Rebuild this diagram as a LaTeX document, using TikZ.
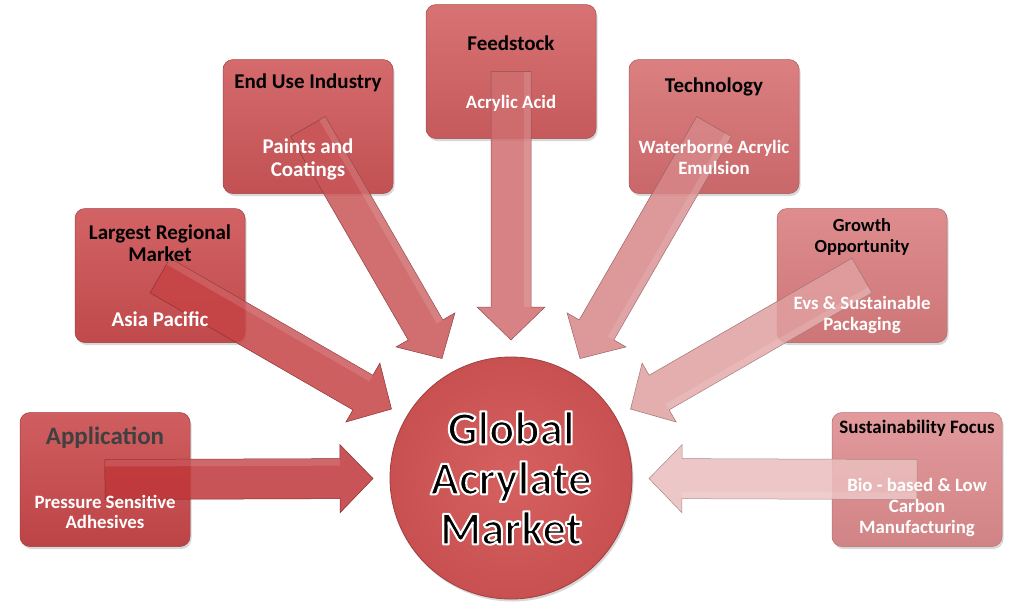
\documentclass[tikz,border=0pt]{standalone}
\usepackage{fontspec}
\setmainfont{Carlito}
\usetikzlibrary{calc,shadows}
\makeatletter
\newcommand{\outlinedtext}[1]{\pgfsys@invoke{1 1 1 RG 2.1 w 1 j 2 Tr}#1\pgfsys@invoke{0 Tr}}
\makeatother
\definecolor{bApp}{RGB}{201,72,74}
\definecolor{aApp}{RGB}{192,55,58}
\definecolor{bReg}{RGB}{204,78,80}
\definecolor{aReg}{RGB}{198,68,70}
\definecolor{bEnd}{RGB}{206,86,88}
\definecolor{aEnd}{RGB}{201,86,88}
\definecolor{bFeed}{RGB}{210,95,97}
\definecolor{aFeed}{RGB}{208,110,112}
\definecolor{bTech}{RGB}{214,110,112}
\definecolor{aTech}{RGB}{216,135,137}
\definecolor{bGrow}{RGB}{218,125,127}
\definecolor{aGrow}{RGB}{225,160,160}
\definecolor{bSust}{RGB}{222,140,142}
\definecolor{aSust}{RGB}{235,190,190}
\definecolor{circIn}{RGB}{214,96,96}
\definecolor{circOut}{RGB}{200,80,80}
\definecolor{titleGray}{RGB}{64,64,64}
\tikzset{
  box/.style={rectangle, rounded corners=10pt, minimum width=170pt, minimum height=134pt,
    inner sep=0pt, draw=#1!80!black, line width=0.5pt,
    top color=#1!88!white, bottom color=#1!94!black,
    drop shadow={opacity=0.3, shadow xshift=1.5pt, shadow yshift=-2.5pt}},
  arrowbody/.style={fill=#1, draw=#1!72!black, line width=0.5pt, fill opacity=0.85, line join=miter},
  arrowlight/.style={fill=white, fill opacity=0.12, draw=none},
  ttl/.style={font=\fontsize{21}{22}\selectfont\bfseries, text=black, align=center, inner sep=0pt},
  bodytxt/.style={font=\fontsize{18.8}{20.7}\selectfont\bfseries, text=white, align=center, inner sep=0pt},
  bigbody/.style={font=\fontsize{21}{23}\selectfont\bfseries, text=white, align=center, inner sep=0pt},
  circ/.style={circle, minimum size=242pt, inner sep=0pt, draw=circOut!80!black, line width=0.8pt,
    inner color=circIn, outer color=circOut,
    drop shadow={opacity=0.3, shadow xshift=1.5pt, shadow yshift=-2.5pt}}
}
% #1 tail coordinate, #2 tip coordinate, #3 colour
\newcommand{\blockarrow}[3]{%
  \path ($(#2)!33pt!(#1)$) coordinate (#2-b);
  \path[arrowbody=#3]
    ($(#1)!20pt!90:(#2)$) -- ($(#2-b)!20pt!90:(#2)$) -- ($(#2-b)!34pt!90:(#2)$) --
    (#2) --
    ($(#2-b)!34pt!-90:(#2)$) -- ($(#2-b)!20pt!-90:(#2)$) -- ($(#1)!20pt!-90:(#2)$) -- cycle;
  \path[arrowlight]
    ($(#1)!20pt!90:(#2)$) -- ($(#2-b)!20pt!90:(#2)$) -- ($(#2-b)!13pt!90:(#2)$) --
    ($(#1)!13pt!90:(#2)$) -- cycle;
}
\begin{document}
\begin{tikzpicture}[x=1pt, y=-1pt]
\useasboundingbox (0,0) rectangle (1024,614);
\fill[white] (0,0) rectangle (1024,614);

% boxes
\node[box=bApp]  (app)  at (105,479.5) {};
\node[box=bReg]  (reg)  at (160,275.5) {};
\node[box=bEnd]  (end)  at (308,126.5) {};
\node[box=bFeed] (feed) at (511,71.5) {};
\node[box=bTech] (tech) at (714,126.5) {};
\node[box=bGrow] (grow) at (862,275.5) {};
\node[box=bSust] (sust) at (917,479.5) {};

% centre circle
\node[circ] (gam) at (511,478) {};

% tails and tips
\foreach \n in {app,reg,end,feed,tech,grow,sust}{
  \coordinate (\n-t) at (\n.center);
  \path ($(gam.center)!138pt!(\n.center)$) coordinate (\n-h);
}

% arrows
\blockarrow{app-t}{app-h}{aApp}
\blockarrow{reg-t}{reg-h}{aReg}
\blockarrow{end-t}{end-h}{aEnd}
\blockarrow{feed-t}{feed-h}{aFeed}
\blockarrow{tech-t}{tech-h}{aTech}
\blockarrow{grow-t}{grow-h}{aGrow}
\blockarrow{sust-t}{sust-h}{aSust}

% texts
\node[ttl, font=\fontsize{25}{26}\selectfont\bfseries, text=titleGray] (appT) at (105,438) {Application};
\node[bodytxt] (appB) at (105,512) {Pressure Sensitive\\Adhesives};

\node[ttl] (regT) at (160,243) {Largest Regional\\Market};
\node[bigbody] (regB) at (160,319) {Asia Pacific};

\node[ttl] (endT) at (308,83) {End Use Industry};
\node[bigbody] (endB) at (308,159.5) {Paints and\\Coatings};

\node[ttl] (feedT) at (511,43) {Feedstock};
\node[bodytxt] (feedB) at (511,103) {Acrylic Acid};

\node[ttl] (techT) at (714,87) {Technology};
\node[bodytxt] (techB) at (714,157.5) {Waterborne Acrylic\\Emulsion};

\node[ttl, font=\fontsize{18.5}{21}\selectfont\bfseries] (growT) at (862,236.5) {Growth\\Opportunity};
\node[bodytxt, font=\fontsize{18.8}{21}\selectfont\bfseries] (growB) at (862,314.5) {Evs \& Sustainable\\Packaging};

\node[ttl, font=\fontsize{19}{20}\selectfont\bfseries] (sustT) at (917,428) {Sustainability Focus};
\node[bodytxt] (sustB) at (917,507.5) {Bio - based \& Low\\Carbon\\Manufacturing};

\node[font=\fontsize{47}{50}\selectfont\bfseries, text=black, align=center, inner sep=0pt] (gamT) at (511,478)
  {\outlinedtext{Global}\\\outlinedtext{Acrylate}\\\outlinedtext{Market}};
\end{tikzpicture}
\end{document}
